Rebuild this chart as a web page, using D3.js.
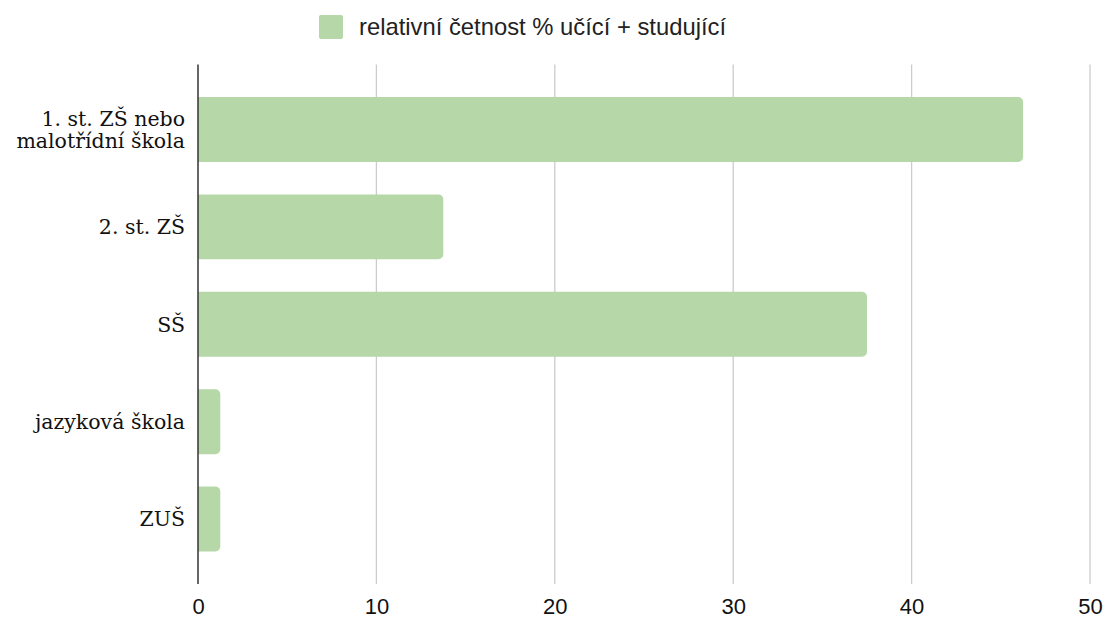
<!DOCTYPE html>
<html>
<head>
<meta charset="utf-8">
<script src="https://cdn.jsdelivr.net/npm/d3@7"></script>
<style>
  html, body { margin: 0; padding: 0; background: #fff; }
  svg { display: block; }
</style>
</head>
<body>
<svg id="chart" width="1107" height="618"></svg>
<script>
// Typy škol (kategorie) a relativní četnost v %
const categories = [
  ["1. st. ZŠ nebo", "malotřídní škola"],
  ["2. st. ZŠ"],
  ["SŠ"],
  ["jazyková škola"],
  ["ZUŠ"]
];
const values = [46.25, 13.75, 37.5, 1.25, 1.25];
const xTicks = [0, 10, 20, 30, 40, 50];
const seriesName = "relativní četnost % učící + studující";

const W = 1107, H = 618;
const margin = { left: 198, right: 17, top: 64.5, bottom: 34 };
const barColor = "#b6d7a8";

const svg = d3.select("#chart");

const x = d3.scaleLinear()
  .domain([0, 50])
  .range([margin.left, W - margin.right]);

const keys = categories.map((c, i) => i);
const y = d3.scaleBand()
  .domain(keys)
  .range([margin.top, H - margin.bottom])
  .paddingInner(1 / 3)
  .paddingOuter(1 / 3);

// svislé mřížky
svg.append("g")
  .selectAll("line")
  .data(xTicks.filter(t => t !== 0))
  .join("line")
  .attr("x1", d => x(d)).attr("x2", d => x(d))
  .attr("y1", margin.top).attr("y2", H - margin.bottom)
  .attr("stroke", "#cccccc")
  .attr("stroke-width", 1.3);

// sloupce se zaoblenými pravými rohy
function barPath(x0, x1, y0, h, r) {
  const w = x1 - x0;
  const rr = Math.min(r, w / 2, h / 2);
  return `M${x0},${y0}H${x1 - rr}A${rr},${rr} 0 0 1 ${x1},${y0 + rr}` +
         `V${y0 + h - rr}A${rr},${rr} 0 0 1 ${x1 - rr},${y0 + h}H${x0}Z`;
}

svg.append("g")
  .selectAll("path")
  .data(values)
  .join("path")
  .attr("d", (d, i) => barPath(x(0), x(d), y(i), y.bandwidth(), 5))
  .attr("fill", barColor);

// osa nuly
svg.append("line")
  .attr("x1", x(0)).attr("x2", x(0))
  .attr("y1", margin.top).attr("y2", H - margin.bottom)
  .attr("stroke", "#333")
  .attr("stroke-width", 1.5);

// popisky kategorií
const labels = svg.append("g")
  .attr("font-family", "'DejaVu Serif', 'Liberation Serif', serif")
  .attr("font-size", 20.5)
  .attr("fill", "#111")
  .attr("text-anchor", "end");

const lh = 22;
categories.forEach((lines, i) => {
  const cy = y(i) + y.bandwidth() / 2;
  const t = labels.append("text")
    .attr("y", cy - (lines.length - 1) * lh / 2);
  lines.forEach((ln, k) => {
    t.append("tspan")
      .attr("x", x(0) - 13)
      .attr("dy", k === 0 ? "0.36em" : lh)
      .text(ln);
  });
});

// popisky osy x
const xAxis = d3.axisBottom(x).tickValues(xTicks).tickSize(0).tickPadding(0);
const gx = svg.append("g")
  .attr("transform", `translate(0,${H - margin.bottom})`)
  .call(xAxis);
gx.select(".domain").remove();
gx.selectAll("text")
  .attr("font-family", "Arial, 'Liberation Sans', sans-serif")
  .attr("font-size", 22)
  .attr("fill", "#111")
  .attr("dy", null)
  .attr("y", 29.5);

// legenda
const leg = svg.append("g").attr("transform", "translate(319,15)");
leg.append("rect")
  .attr("width", 24).attr("height", 24).attr("rx", 2)
  .attr("fill", barColor);
leg.append("text")
  .attr("x", 40).attr("y", 19.5)
  .attr("font-family", "Arial, 'Liberation Sans', sans-serif")
  .attr("font-size", 23.8)
  .attr("fill", "#222")
  .text(seriesName);
</script>
</body>
</html>
